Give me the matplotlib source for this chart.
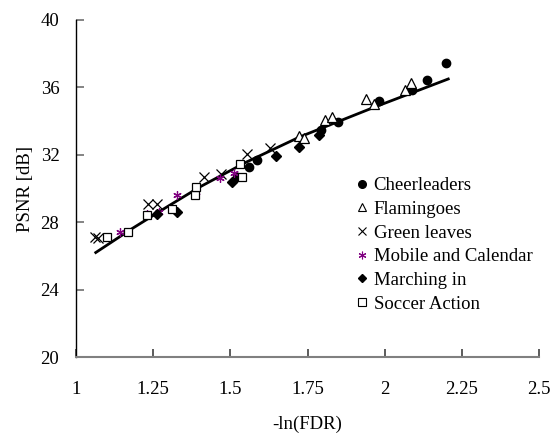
import matplotlib
matplotlib.use("Agg")
import matplotlib.pyplot as plt
from matplotlib.lines import Line2D

# ---- data ----
cheer_x = [1.52, 1.56, 1.588, 1.793, 1.85, 1.983, 2.087, 2.136, 2.20]
cheer_y = [30.7, 31.26, 31.7, 33.5, 33.97, 35.2, 35.85, 36.44, 37.43]

flam_x = [1.723, 1.739, 1.807, 1.828, 1.939, 1.966, 2.066, 2.084]
flam_y = [33.1, 32.98, 34.07, 34.26, 35.3, 35.0, 35.85, 36.28]

green_x = [1.062, 1.072, 1.234, 1.261, 1.415, 1.469, 1.555, 1.628]
green_y = [27.1, 27.05, 29.1, 29.1, 30.7, 30.85, 32.05, 32.4]

mobile_x = [1.142, 1.165, 1.231, 1.27, 1.328, 1.389, 1.466, 1.513]
mobile_y = [27.4, 27.4, 28.5, 28.6, 29.6, 29.8, 30.65, 30.9]

march_x = [1.263, 1.328, 1.504, 1.648, 1.723, 1.788]
march_y = [28.5, 28.6, 30.4, 31.9, 32.45, 33.2]

soccer_x = [1.10, 1.17, 1.231, 1.31, 1.386, 1.389, 1.531, 1.537]
soccer_y = [27.1, 27.4, 28.4, 28.8, 29.6, 30.1, 31.45, 30.7]

fit_x = [1.064, 1.18, 1.294, 1.402, 1.55, 1.726, 1.963, 2.206]
fit_y = [26.2, 27.6, 28.9, 30.1, 31.55, 33.07, 34.8, 36.5]

x_ticks = [1, 1.25, 1.5, 1.75, 2, 2.25, 2.5]
x_tick_labels = ["1", "1.25", "1.5", "1.75", "2", "2.25", "2.5"]
y_ticks = [20, 24, 28, 32, 36, 40]

plt.rcParams['font.family'] = ['Liberation Serif', 'DejaVu Serif']

fig = plt.figure(figsize=(5.54, 4.34), dpi=100)
ax = fig.add_axes([76/554, 1-357/434, (539-76)/554, (357-20)/434])

ax.plot(fit_x, fit_y, color='black', lw=2.0, zorder=2)

ax.plot(cheer_x, cheer_y, 'o', ms=6, mfc='black', mec='black', ls='none', zorder=3)
ax.plot(flam_x, flam_y, '^', ms=6.5, mfc='white', mec='black', mew=0.9, ls='none', zorder=3)
ax.plot(green_x, green_y, 'x', ms=6.5, mec='black', mew=0.9, ls='none', zorder=3)
ax.plot(mobile_x, mobile_y, marker=(6, 2, 0), ms=6, mec='#800080', mew=0.9, ls='none', zorder=3)
ax.plot(march_x, march_y, 'D', ms=5, mfc='black', mec='black', ls='none', zorder=3)
ax.plot(soccer_x, soccer_y, 's', ms=5.5, mfc='white', mec='black', mew=0.9, ls='none', zorder=3)

ax.set_xlim(1, 2.5)
ax.set_ylim(20, 40)
ax.set_xticks(x_ticks)
ax.set_xticklabels(x_tick_labels)
ax.set_yticks(y_ticks)

for s in ['top', 'right']:
    ax.spines[s].set_visible(False)
ax.spines['left'].set_color('black')
ax.spines['left'].set_linewidth(1.0)
ax.spines['bottom'].set_color('#808080')
ax.spines['bottom'].set_linewidth(1.5)

ax.tick_params(axis='x', direction='in', length=6, width=1.2, color='#404040',
               labelsize=13.5, pad=17)
ax.tick_params(axis='y', direction='in', length=6, width=1.2, color='#707070',
               labelsize=13.5, pad=12)

ax.set_xlabel('-ln(FDR)', fontsize=13.5, labelpad=13)
ax.set_ylabel('PSNR [dB]', fontsize=13.5, labelpad=5)

handles = [
    Line2D([], [], marker='o', ms=5.5, mfc='black', mec='black', ls='none'),
    Line2D([], [], marker='^', ms=5.5, mfc='white', mec='black', mew=0.8, ls='none'),
    Line2D([], [], marker='x', ms=5.5, mec='black', mew=0.8, ls='none'),
    Line2D([], [], marker=(6, 2, 0), ms=5.5, mec='#800080', mew=0.8, ls='none'),
    Line2D([], [], marker='D', ms=4.5, mfc='black', mec='black', ls='none'),
    Line2D([], [], marker='s', ms=5.5, mfc='white', mec='black', mew=0.8, ls='none'),
]
labels = ['Cheerleaders', 'Flamingoes', 'Green leaves', 'Mobile and Calendar',
          'Marching in', 'Soccer Action']
fig.legend(handles, labels, loc='upper left', bbox_to_anchor=(356/554, 1-177/434),
           frameon=False, fontsize=13.5, handlelength=0.6, handletextpad=0.34,
           labelspacing=0.35, borderaxespad=0, borderpad=0)

fig.savefig('out.png', dpi=100)
